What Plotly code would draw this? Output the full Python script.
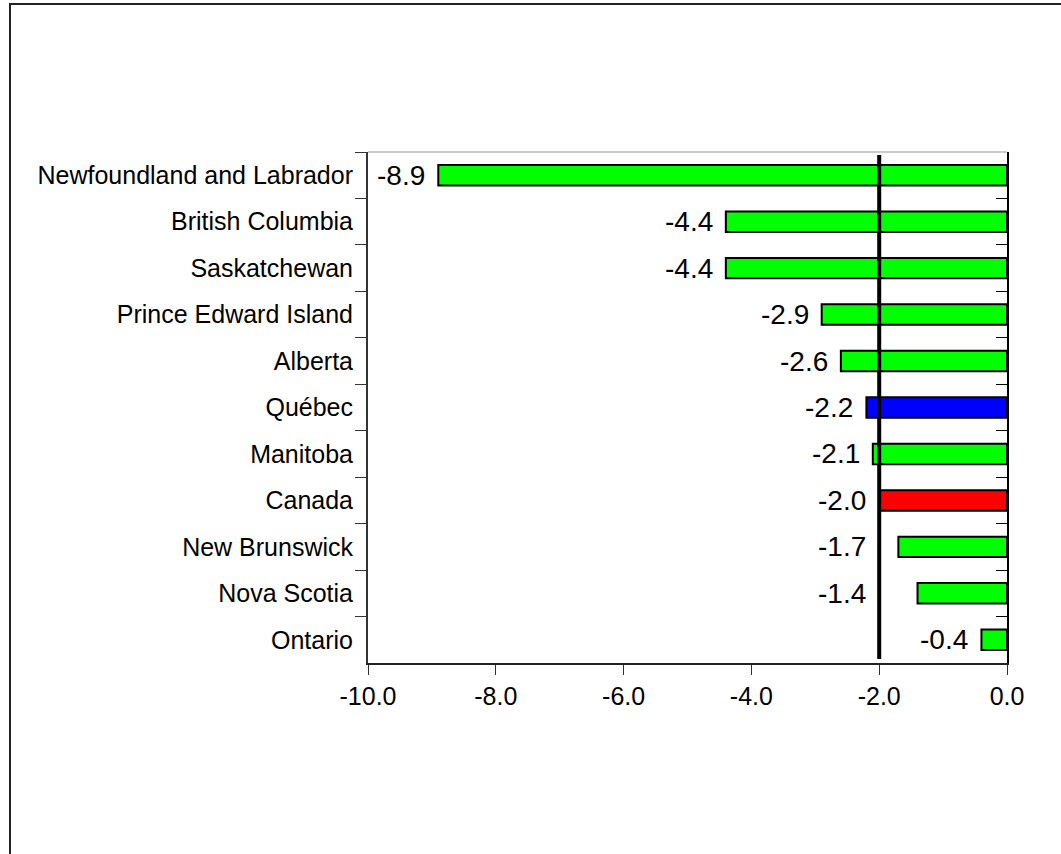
import plotly.graph_objects as go

# Provinces, top to bottom, and their values
provinces = [
    "Newfoundland and Labrador", "British Columbia", "Saskatchewan",
    "Prince Edward Island", "Alberta", "Québec", "Manitoba", "Canada",
    "New Brunswick", "Nova Scotia", "Ontario",
]
values = [-8.9, -4.4, -4.4, -2.9, -2.6, -2.2, -2.1, -2.0, -1.7, -1.4, -0.4]
bar_colors = ["#00FF00", "#00FF00", "#00FF00", "#00FF00", "#00FF00", "#0000FF",
              "#00FF00", "#FF0000", "#00FF00", "#00FF00", "#00FF00"]
reference_value = -2.0
x_ticks = [-10.0, -8.0, -6.0, -4.0, -2.0, 0.0]

FONT = "Liberation Sans, Arial, sans-serif"
W, H = 1061, 854
L, R, T, B = 368, 54, 152, 191
pw, ph = W - L - R, H - T - B

fig = go.Figure()

fig.add_trace(go.Bar(
    x=values, y=provinces, orientation="h",
    marker=dict(color=bar_colors, line=dict(color="black", width=2)),
    hoverinfo="x+y", showlegend=False,
))

# invisible companion trace so the right-hand axis gets its category ticks
fig.add_trace(go.Scatter(
    x=values, y=provinces, yaxis="y2", mode="markers",
    marker=dict(opacity=0), hoverinfo="skip", showlegend=False,
))

# value labels to the left of each bar; when the gap between the reference
# line and the bar end is too narrow, the label moves left of the line
for name, v in zip(provinces, values):
    anchor = v if (v <= reference_value or v - reference_value > 1.0) else reference_value
    fig.add_annotation(
        x=anchor, y=name, text=f"{v:.1f}",
        xanchor="right", yanchor="middle", xshift=-11, showarrow=False,
        font=dict(family=FONT, size=28, color="black"),
    )

# reference line at the national value
fig.add_shape(type="line", xref="x", yref="paper",
              x0=reference_value, x1=reference_value, y0=0.008, y1=0.994,
              line=dict(color="black", width=4), layer="above")

# top edge of the plot area
fig.add_shape(type="line", xref="paper", yref="paper",
              x0=0, x1=1, y0=1, y1=1, line=dict(color="#999999", width=1))

# frame around the whole chart
fig.add_shape(type="rect", xref="paper", yref="paper",
              x0=(10 - L) / pw, x1=(W + 4 - L) / pw,
              y0=(T + ph - (H + 4)) / ph, y1=(T + ph - 4) / ph,
              line=dict(color="#222222", width=2), fillcolor="rgba(0,0,0,0)",
              layer="below")

cat_axis = dict(
    type="category", categoryorder="array", categoryarray=provinces,
    range=[len(provinces) - 0.5, -0.5], tickson="boundaries",
    showgrid=False, zeroline=False, showline=True, linewidth=2,
)

fig.update_layout(
    width=W, height=H,
    margin=dict(l=L, r=R, t=T, b=B),
    paper_bgcolor="white", plot_bgcolor="white",
    bargap=0.56,
    font=dict(family=FONT, size=25, color="black"),
    xaxis=dict(
        range=[-10, 0], tickvals=x_ticks, ticktext=[f"{t:.1f}" for t in x_ticks],
        ticks="outside", ticklen=10, tickwidth=1, tickcolor="#333333",
        showline=True, linecolor="#222222", linewidth=2,
        showgrid=False, zeroline=False,
        tickfont=dict(family=FONT, size=25, color="black"),
    ),
    yaxis=dict(
        **cat_axis, linecolor="#333333",
        ticks="outside", ticklen=11, tickwidth=1, tickcolor="#333333",
        ticklabelstandoff=8,
        tickfont=dict(family=FONT, size=25, color="black"),
    ),
    yaxis2=dict(
        **cat_axis, overlaying="y", side="right", linecolor="black",
        ticks="inside", ticklen=11, tickwidth=1, tickcolor="black",
        showticklabels=False,
    ),
)

fig.write_html("out.html")
